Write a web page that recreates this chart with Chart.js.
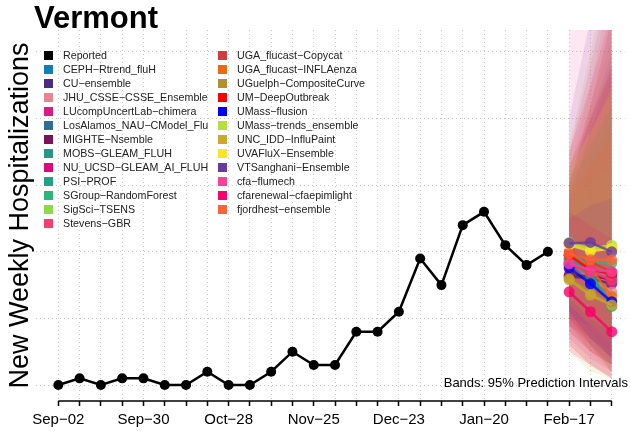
<!DOCTYPE html>
<html>
<head>
<meta charset="utf-8">
<script src="https://cdn.jsdelivr.net/npm/chart.js@4.4.1/dist/chart.umd.min.js"></script>
<style>
  html, body { margin: 0; padding: 0; background: #fff; }
  #wrap { position: relative; width: 630px; height: 433px; font-family: "Liberation Sans", Arial, sans-serif; }
  #chart { position: absolute; left: 0; top: 0; }
  #title { position: absolute; left: 34px; top: 3px; font-size: 31px; font-weight: bold; line-height: 30px; }
  .item { position: absolute; font-size: 10.7px; line-height: 14px; white-space: nowrap; color: #222; }
  .item span { display: inline-block; width: 9px; height: 9px; margin-right: 10px; vertical-align: -1px; }
  #note { position: absolute; right: 2px; top: 375px; font-size: 13px; line-height: 16px; }
</style>
</head>
<body>
<div id="wrap">
  <canvas id="chart" width="630" height="433"></canvas>
  <div id="title">Vermont</div>
  <div id="legend"></div>
  <div id="note">Bands: 95% Prediction Intervals</div>
</div>
<script>
// weekly reported hospitalizations, week 0 = Sep-02
const reported = [0, 1, 0, 1, 1, 0, 0, 2, 0, 0, 2, 5, 3, 3, 8, 8, 11, 19, 15, 24, 26, 21, 18, 20];
const forecastWeeks = [24, 25, 26];
const tickLabels = ['Sep−02', 'Sep−30', 'Oct−28', 'Nov−25', 'Dec−23', 'Jan−20', 'Feb−17'];
const yGrid = [0, 10, 20, 30, 40, 50];

const models = [
  'CEPH−Rtrend_fluH', 'CU−ensemble', 'JHU_CSSE−CSSE_Ensemble', 'LUcompUncertLab−chimera',
  'LosAlamos_NAU−CModel_Flu', 'MIGHTE−Nsemble', 'MOBS−GLEAM_FLUH', 'NU_UCSD−GLEAM_AI_FLUH',
  'PSI−PROF', 'SGroup−RandomForest', 'SigSci−TSENS', 'Stevens−GBR',
  'UGA_flucast−Copycat', 'UGA_flucast−INFLAenza', 'UGuelph−CompositeCurve', 'UM−DeepOutbreak',
  'UMass−flusion', 'UMass−trends_ensemble', 'UNC_IDD−InfluPaint', 'UVAFluX−Ensemble',
  'VTSanghani−Ensemble', 'cfa−flumech', 'cfarenewal−cfaepimlight', 'fjordhest−ensemble'
];
const modelColors = [
  '#0f7fb8', '#4b2c80', '#e8858e', '#dc1a88',
  '#2e6e90', '#7a1259', '#24988a', '#e0087f',
  '#20a287', '#2eb67a', '#8cdb45', '#f83c70',
  '#d13b3e', '#ea6a10', '#b08f30', '#ff0000',
  '#0000ff', '#b5e03a', '#c9a82a', '#fbe528',
  '#6a3a9e', '#f5429b', '#fa0068', '#fc6237'
];
const medians = [
  [18.5, 17.5, 16.5], [16.3, 16.0, 15.2], [17.5, 16.0, 14.0], [18.3, 17.0, 15.5],
  [18.0, 15.5, 12.5], [16.5, 16.3, 16.0], [18.8, 16.5, 12.0], [18.0, 17.3, 16.8],
  [19.0, 17.0, 11.8], [19.5, 18.5, 18.3], [21.4, 20.5, 20.5], [18.3, 17.0, 15.8],
  [20.0, 18.5, 17.0], [19.5, 17.5, 13.3], [16.0, 14.0, 12.0], [19.5, 17.3, 16.8],
  [17.6, 15.2, 12.5], [21.2, 20.5, 21.0], [15.8, 13.5, 12.0], [21.0, 20.1, 20.5],
  [21.3, 21.4, 20.0], [18.2, 17.3, 17.0], [14.0, 11.0, 8.0], [19.7, 18.8, 18.8]
];
const lower95 = [
  [10, 7, 4], [9, 6, 3], [8, 5, 2], [7, 4, 2],
  [10, 6, 3], [8, 5, 3], [12, 8, 4], [9, 7, 5],
  [11, 6, 2], [12, 10, 8], [13, 10, 8], [10, 7, 4],
  [11, 7, 4], [10, 6, 2], [6, 3, 1], [9, 5, 3],
  [11, 7, 4], [12, 9, 7], [5, 2, 1], [13, 10, 8],
  [10, 9, 7], [6, 3, 1], [5, 3, 1], [12, 9, 6]
];
const upper95 = [
  [30, 40, 50], [28, 38, 48], [32, 45, 60], [35, 48, 62],
  [29, 36, 42], [30, 42, 55], [27, 33, 38], [31, 40, 48],
  [28, 34, 40], [28, 30, 33], [31, 36, 41], [30, 38, 46],
  [33, 40, 47], [32, 42, 52], [30, 36, 42], [35, 45, 56],
  [25, 27, 28], [33, 38, 45], [36, 50, 65], [32, 38, 44],
  [40, 55, 70], [55, 70, 85], [26, 24, 22], [29, 33, 38]
];

function rgba(hex, a) {
  const n = parseInt(hex.slice(1), 16);
  return `rgba(${n >> 16}, ${(n >> 8) & 255}, ${n & 255}, ${a})`;
}
const toPoints = (ys, xs) => ys.map((y, i) => ({x: xs ? xs[i] : i, y: y}));
const allWeeks = Array.from({length: 27}, (_, w) => w);

const datasets = [];
models.forEach((name, i) => {
  datasets.push({
    label: name + ' upper', data: toPoints(upper95[i], forecastWeeks),
    borderWidth: 0, pointRadius: 0, fill: '+1',
    backgroundColor: rgba(modelColors[i], 0.13), order: 3 - i / 100
  });
  datasets.push({
    label: name + ' lower', data: toPoints(lower95[i], forecastWeeks),
    borderWidth: 0, pointRadius: 0, fill: false, order: 3 - i / 100
  });
});
models.forEach((name, i) => {
  datasets.push({
    label: name, data: toPoints(medians[i], forecastWeeks),
    borderColor: rgba(modelColors[i], 0.8), backgroundColor: rgba(modelColors[i], 0.8),
    borderWidth: 2.5, pointRadius: 5.5, pointBorderWidth: 0, fill: false, order: 2 - i / 100
  });
});
datasets.push({
  label: 'Reported', data: toPoints(reported),
  borderColor: '#000', backgroundColor: '#000',
  borderWidth: 2.5, pointRadius: 5, pointBorderWidth: 0, fill: false, order: 0
});

// base-R style axis: line only from first to last tick
const axisLine = {
  id: 'axisLine',
  afterDraw(chart) {
    const x = chart.scales.x, ctx = chart.ctx;
    ctx.save();
    ctx.strokeStyle = '#000';
    ctx.lineWidth = 1.5;
    ctx.beginPath();
    ctx.moveTo(x.getPixelForValue(allWeeks[0]), chart.chartArea.bottom);
    ctx.lineTo(x.getPixelForValue(allWeeks[allWeeks.length - 1]), chart.chartArea.bottom);
    ctx.stroke();
    ctx.restore();
  }
};

Chart.defaults.font.family = '"Liberation Sans", Arial, sans-serif';
Chart.defaults.color = '#000';

new Chart(document.getElementById('chart'), {
  type: 'line',
  data: {datasets: datasets},
  options: {
    responsive: false,
    animation: false,
    layout: {padding: {top: 30, right: 3, bottom: 0, left: 1}},
    elements: {line: {tension: 0}},
    scales: {
      x: {
        type: 'linear', min: -1.03, max: 26.6,
        afterBuildTicks: axis => { axis.ticks = allWeeks.map(w => ({value: w})); },
        ticks: {
          autoSkip: false, maxRotation: 0, padding: 6,
          font: {size: 15, lineHeight: 1},
          callback: v => (v % 4 === 0 ? tickLabels[v / 4] : '')
        },
        grid: {color: '#c8c8c8', lineWidth: 1, tickColor: '#000', tickWidth: 1.5, tickLength: 5, tickBorderDash: []},
        border: {display: false, dash: [1, 3]}
      },
      y: {
        min: -2.4, max: 53.3,
        afterBuildTicks: axis => { axis.ticks = yGrid.map(v => ({value: v})); },
        ticks: {display: false},
        grid: {color: '#c8c8c8', lineWidth: 1, drawTicks: false},
        border: {display: false, dash: [1, 3]},
        title: {display: true, text: 'New Weekly Hospitalizations', font: {size: 27}, padding: {top: 3, bottom: 0}}
      }
    },
    plugins: {
      legend: {display: false},
      tooltip: {enabled: false}
    }
  },
  plugins: [axisLine]
});

// two-column legend, filled down the first column then the second
const legendNames = ['Reported'].concat(models);
const legendColors = ['#000'].concat(modelColors);
const rowsPerCol = 13;
const legendBox = document.getElementById('legend');
legendNames.forEach((name, i) => {
  const col = Math.floor(i / rowsPerCol), row = i % rowsPerCol;
  const el = document.createElement('div');
  el.className = 'item';
  el.style.left = (col ? 218 : 44) + 'px';
  el.style.top = (48 + row * 14) + 'px';
  el.innerHTML = `<span style="background:${legendColors[i]}"></span>${name}`;
  legendBox.appendChild(el);
});
</script>
</body>
</html>
